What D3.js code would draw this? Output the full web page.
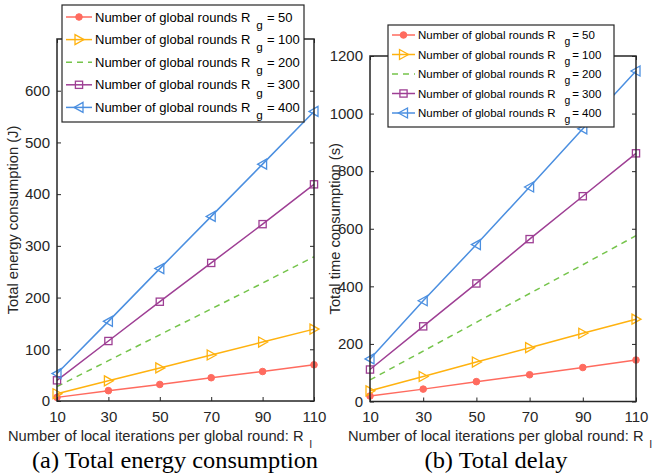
<!DOCTYPE html>
<html>
<head>
<meta charset="utf-8">
<style>
  body { margin: 0; background: #fff; }
  svg { display: block; font-family: "Liberation Sans", Arial, Helvetica, sans-serif; }
  .tick text { fill: #262626; }
</style>
<script src="https://cdn.jsdelivr.net/npm/d3@7"></script>
</head>
<body>
<svg id="chart" width="657" height="474"></svg>
<script>
// local iterations per global round (x axis)
const iterations = [10, 30, 50, 70, 90, 110];
const globalRounds = [50, 100, 200, 300, 400];

// panel (a): total energy consumption (J)
const energyRg50  = [7, 20, 32, 45, 57, 70];
const energyRg100 = [14, 39, 64, 89, 114, 139];
const energyRg200 = [28, 78, 128, 178, 228, 279];
const energyRg300 = [40, 116, 192, 267, 342, 419];
const energyRg400 = [53, 154, 256, 357, 458, 560];

// panel (b): total time consumption (s)
const delayRg50  = [19, 43, 69, 93, 118, 144];
const delayRg100 = [37, 87, 137, 187, 237, 286];
const delayRg200 = [75, 175, 275, 375, 475, 576];
const delayRg300 = [111, 261, 410, 564, 713, 862];
const delayRg400 = [148, 350, 545, 745, 947, 1148];

const xTicks = [10, 30, 50, 70, 90, 110];
const energyTicks = [0, 100, 200, 300, 400, 500, 600];
const delayTicks = [0, 200, 400, 600, 800, 1000, 1200];

const colors = ["#ff6b5f", "#ffb20f", "#75c44b", "#9e3f94", "#4b8fe0"];
const markers = ["dot", "right", "none", "square", "left"];

const svg = d3.select("#chart");

function drawMarker(g, type, x, y, color) {
  if (type === "dot") {
    g.append("circle").attr("cx", x).attr("cy", y).attr("r", 3.3)
      .attr("fill", color).attr("stroke", color);
  } else if (type === "square") {
    g.append("rect").attr("x", x - 3.6).attr("y", y - 3.6)
      .attr("width", 7.2).attr("height", 7.2)
      .attr("fill", "none").attr("stroke", color).attr("stroke-width", 1.3);
  } else if (type === "right") {
    g.append("path").attr("d", `M${x - 4},${y - 5}L${x + 5},${y}L${x - 4},${y + 5}Z`)
      .attr("fill", "none").attr("stroke", color).attr("stroke-width", 1.3);
  } else if (type === "left") {
    g.append("path").attr("d", `M${x + 4},${y - 5}L${x - 5},${y}L${x + 4},${y + 5}Z`)
      .attr("fill", "none").attr("stroke", color).attr("stroke-width", 1.3);
  }
}

function drawPanel(cfg) {
  const { left, right, top, bottom, yMax, yTicks, series, yLabel, yLabelX, caption, captionX, captionW, xLabelX, legend } = cfg;
  const x = d3.scaleLinear().domain([10, 110]).range([left, right]);
  const y = d3.scaleLinear().domain([0, yMax]).range([bottom, top]);
  const g = svg.append("g");

  // lines
  const line = d3.line().x((d, i) => x(iterations[i])).y(d => y(d));
  series.forEach((s, k) => {
    g.append("path").datum(s)
      .attr("d", line)
      .attr("fill", "none")
      .attr("stroke", colors[k])
      .attr("stroke-width", 1.5)
      .attr("stroke-dasharray", markers[k] === "none" ? "6,5" : null);
    s.forEach((v, i) => drawMarker(g, markers[k], x(iterations[i]), y(v), colors[k]));
  });

  // axes with inward ticks + box
  const axisStyle = sel => {
    sel.select(".domain").remove();
    sel.selectAll(".tick line").attr("stroke", "#262626");
    sel.selectAll(".tick text").attr("font-size", 15);
  };
  g.append("g").attr("transform", `translate(0,${bottom})`)
    .call(d3.axisBottom(x).tickValues(xTicks).tickSizeInner(-4).tickPadding(10))
    .call(axisStyle);
  g.append("g").attr("transform", `translate(0,${top})`)
    .call(d3.axisTop(x).tickValues(xTicks).tickSizeInner(-4).tickFormat(""))
    .call(axisStyle);
  g.append("g").attr("transform", `translate(${left},0)`)
    .call(d3.axisLeft(y).tickValues(yTicks).tickSizeInner(-4).tickPadding(7).tickFormat(d3.format("d")))
    .call(axisStyle);
  g.append("g").attr("transform", `translate(${right},0)`)
    .call(d3.axisRight(y).tickValues(yTicks).tickSizeInner(-4).tickFormat(""))
    .call(axisStyle);
  g.append("rect").attr("x", left).attr("y", top)
    .attr("width", right - left).attr("height", bottom - top)
    .attr("fill", "none").attr("stroke", "#262626").attr("stroke-width", 1.5);

  // y label
  g.append("text")
    .attr("transform", `translate(${yLabelX},${(top + bottom) / 2}) rotate(-90)`)
    .attr("text-anchor", "middle").attr("font-size", 14.7).attr("fill", "#262626")
    .text(yLabel);

  // x label
  const xl = g.append("text")
    .attr("x", xLabelX).attr("y", 441)
    .attr("text-anchor", "middle").attr("font-size", 14.7).attr("fill", "#262626")
    .text("Number of local iterations per global round: R");
  xl.append("tspan").attr("dx", 6).attr("dy", 7).attr("font-size", 11).text("l");

  // caption
  g.append("text")
    .attr("x", captionX).attr("y", 468)
    .attr("text-anchor", "middle")
    .attr("font-family", "'Liberation Serif', 'Times New Roman', serif")
    .attr("font-size", 22.5).attr("fill", "#000")
    .attr("textLength", captionW).attr("lengthAdjust", "spacingAndGlyphs")
    .text(caption);

  // legend
  const lg = g.append("g");
  lg.append("rect").attr("x", legend.x).attr("y", legend.y)
    .attr("width", legend.w).attr("height", legend.h)
    .attr("fill", "#fff").attr("stroke", "#262626").attr("stroke-width", 1.2);
  globalRounds.forEach((rg, k) => {
    const cy = legend.y + legend.first + k * legend.step;
    const x0 = legend.x + 4, x1 = x0 + legend.lineW;
    lg.append("line").attr("x1", x0).attr("x2", x1).attr("y1", cy).attr("y2", cy)
      .attr("stroke", colors[k]).attr("stroke-width", 1.5)
      .attr("stroke-dasharray", markers[k] === "none" ? "6,5" : null);
    drawMarker(lg, markers[k], (x0 + x1) / 2, cy, colors[k]);
    const t = lg.append("text").attr("x", x1 + 3).attr("y", cy + legend.fs * 0.35)
      .attr("font-size", legend.fs).attr("fill", "#000")
      .text("Number of global rounds R");
    t.append("tspan").attr("dx", legend.gapR).attr("dy", legend.fs * 0.55)
      .attr("font-size", legend.fs * 0.9).text("g");
    t.append("tspan").attr("dx", legend.gapG).attr("dy", -legend.fs * 0.55).text("= " + rg);
  });
}

drawPanel({
  left: 57, right: 314, top: 39, bottom: 401, yMax: 700,
  yTicks: energyTicks,
  series: [energyRg50, energyRg100, energyRg200, energyRg300, energyRg400],
  yLabel: "Total energy consumption (J)", yLabelX: 18,
  caption: "(a) Total energy consumption", captionX: 175, captionW: 286, xLabelX: 160,
  legend: { x: 62, y: 5, w: 242, h: 117, first: 12, step: 22.6, lineW: 26, fs: 13, gapR: 6, gapG: 4 }
});

drawPanel({
  left: 370, right: 636, top: 56, bottom: 401.5, yMax: 1200,
  yTicks: delayTicks,
  series: [delayRg50, delayRg100, delayRg200, delayRg300, delayRg400],
  yLabel: "Total time consumption (s)", yLabelX: 340,
  caption: "(b) Total delay", captionX: 496, captionW: 143, xLabelX: 500,
  legend: { x: 388, y: 25, w: 226, h: 102, first: 10, step: 19.5, lineW: 23, fs: 11.5, gapR: 9, gapG: 2 }
});
</script>
</body>
</html>
